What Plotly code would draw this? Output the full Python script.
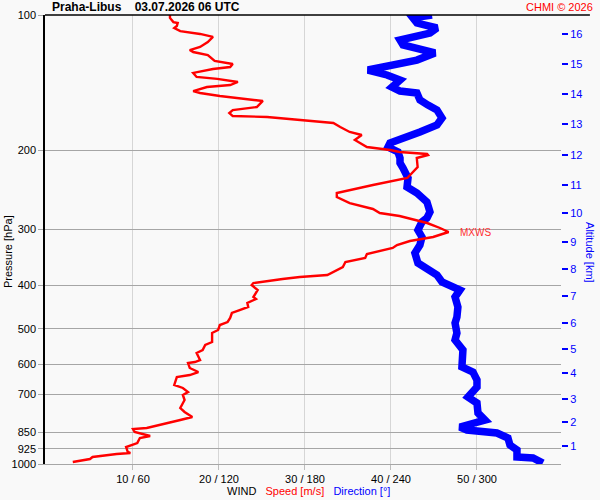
import math
import plotly.graph_objects as go

# wind speed profile [m/s] vs pressure [hPa]
speed_p = [100, 101.5, 103.7, 104.2, 105.8, 106.9, 108.6, 110.2, 111.9, 114.9,
           117.8, 119.7, 120.9, 122.8, 126.6, 128.6, 130.6, 131.9, 134.6, 137.4,
           138.8, 141.0, 143.2, 144.7, 147.7, 149.2, 151.5, 153.8, 155.4, 160.3,
           162.8, 165.3, 167.9, 168.7, 171.3, 174.0, 177.6, 182.2, 185.0, 189.8,
           196.8, 199.8, 201.9, 204.0, 205.0, 208.2, 218.0, 230.7, 239.1, 249.1,
           254.3, 262.3, 270.4, 276.1, 280.3, 286.1, 290.6, 298.1, 304.3, 312.2,
           318.7, 325.3, 330.3, 340.7, 347.7, 354.9, 364.1, 379.4, 383.3, 387.3,
           395.3, 399.4, 409.7, 424.7, 429.0, 437.9, 447.0, 454.0, 461.0, 473.0,
           482.8, 490.3, 503.0, 510.8, 535.0, 543.2, 557.3, 566.0, 586.7, 592.7,
           595.8, 611.2, 623.9, 633.6, 640.1, 666.9, 677.2, 691.3, 702.0, 720.2,
           750.4, 765.9, 785.8, 798.0, 818.7, 831.4, 835.7, 848.7, 866.2, 875.3,
           898.0, 907.3, 916.6, 940.4, 945.2, 950.1, 964.8, 974.7, 989.9]
speed = [14.3, 14.3, 14.7, 15.2, 15.1, 14.8, 15.5, 17.8, 19.3, 18.7,
         17.8, 16.6, 17.0, 18.7, 19.5, 21.6, 21.3, 19.3, 17.0, 17.4,
         19.8, 22.2, 21.3, 18.6, 17.0, 17.8, 20.1, 23.3, 25.1, 24.4,
         21.6, 21.2, 21.6, 25.6, 29.4, 33.3, 34.1, 35.2, 36.6, 35.8,
         37.2, 39.9, 41.0, 44.2, 44.3, 43.0, 43.1, 41.9, 37.9, 33.7,
         33.7, 35.2, 37.9, 38.7, 41.0, 43.0, 44.2, 45.7, 46.7, 44.9,
         42.2, 40.7, 40.2, 37.2, 37.0, 34.7, 34.4, 32.6, 29.4, 27.4,
         24.0, 23.8, 24.5, 24.0, 24.3, 23.3, 23.4, 22.4, 21.5, 21.3,
         21.0, 20.1, 19.9, 19.2, 19.2, 18.4, 18.1, 17.4, 17.8, 17.2,
         16.4, 16.6, 17.6, 16.6, 15.1, 14.8, 15.8, 16.4, 15.8, 16.0,
         15.5, 16.0, 16.9, 15.5, 13.1, 11.6, 10.0, 10.2, 12.0, 10.8,
         10.5, 9.9, 9.2, 9.4, 9.7, 8.1, 5.3, 5.0, 3.0]

# wind direction profile [deg] vs pressure [hPa]
dir_p = [100, 101.5, 104.2, 106.9, 109.7, 113.7, 116.6, 121.5, 126.0, 132.6,
         136.0, 139.6, 144.7, 147.7, 149.2, 154.6, 158.7, 162.8, 169.6, 175.8,
         182.2, 192.8, 196.8, 201.9, 208.2, 213.6, 219.2, 230.7, 241.6, 249.1,
         260.9, 274.6, 283.2, 289.1, 301.2, 312.2, 325.3, 338.9, 356.7, 369.8,
         379.4, 393.3, 403.5, 409.7, 424.7, 447.0, 470.6, 485.3, 510.8, 529.5,
         557.3, 586.7, 608.1, 623.9, 650.0, 673.8, 709.2, 731.4, 769.9, 798.0,
         810.4, 827.2, 840.0, 853.1, 875.3, 907.3, 930.8, 964.8, 969.8, 995.0]
direction = [268.6, 255.3, 258.1, 272.1, 267.2, 246.3, 248.4, 270.7, 258.1, 223.9,
             237.2, 246.3, 240.7, 246.3, 258.1, 260.2, 265.8, 272.1, 275.6, 272.1,
             260.2, 239.3, 237.9, 244.9, 246.3, 246.3, 248.4, 251.9, 251.2, 258.1,
             265.1, 267.2, 265.1, 261.6, 258.8, 261.6, 260.2, 256.7, 258.8, 267.2,
             272.1, 275.6, 282.6, 288.1, 284.7, 286.7, 286.0, 284.7, 286.0, 284.7,
             290.2, 289.5, 289.5, 297.2, 300.0, 300.0, 293.7, 300.0, 300.7, 305.6,
             297.2, 288.1, 293.0, 313.9, 321.6, 323.0, 327.9, 327.9, 339.1, 346.0]

p_ticks = [100, 200, 300, 400, 500, 600, 700, 850, 925, 1000]
x_ticks = [10, 20, 30, 40, 50]
x_labels = ["10 / 60", "20 / 120", "30 / 180", "40 / 240", "50 / 300"]
alt_km = list(range(1, 17))
alt_p = [911.9, 806.2, 716.5, 627.1, 554.5, 485.3, 422.5, 367.9,
         320.3, 276.1, 239.1, 205.0, 174.9, 150.0, 128.6, 110.2]

mxws_p = 304.3
mxws_speed = 46.7

FONT = "Liberation Sans"

fig = go.Figure()
# direction shares the x axis: 6 degrees per m/s
fig.add_trace(go.Scatter(x=[d / 6 for d in direction], y=dir_p, mode="lines",
                         line=dict(color="#0000ff", width=7.5), hoverinfo="skip"))
fig.add_trace(go.Scatter(x=speed, y=speed_p, mode="lines",
                         line=dict(color="#ff0000", width=2.4), hoverinfo="skip"))
fig.add_trace(go.Scatter(x=[None], y=[None], yaxis="y2", showlegend=False))

fig.update_layout(
    width=600, height=500,
    margin=dict(l=45, r=39, t=15, b=36, autoexpand=False),
    paper_bgcolor="#f9f9f9", plot_bgcolor="#f9f9f9",
    showlegend=False,
    font=dict(family=FONT, size=11, color="black"),
    xaxis=dict(range=[-0.23, 59.77], tickvals=x_ticks, ticktext=x_labels,
               showgrid=True, gridcolor="#d6d6d6", gridwidth=1,
               ticks="outside", ticklen=5, tickcolor="#bdbdbd",
               showline=True, linecolor="#a6a6a6", linewidth=1,
               zeroline=False, tickfont=dict(size=11), automargin=False),
    yaxis=dict(type="log", range=[3, 2], tickvals=p_ticks,
               ticktext=[str(p) for p in p_ticks],
               showgrid=True, gridcolor="#a6a6a6", gridwidth=1,
               ticks="outside", ticklen=5, tickcolor="#a6a6a6",
               showline=True, linecolor="black", linewidth=1.5,
               zeroline=False, tickfont=dict(size=11), automargin=False),
    yaxis2=dict(type="log", range=[3, 2], overlaying="y", side="right",
                tickvals=alt_p, ticktext=[str(a) for a in alt_km],
                showgrid=False, showline=False, zeroline=False,
                ticks="outside", ticklen=6, tickcolor="#0000ff", tickwidth=1.5,
                tickfont=dict(size=11, color="#0000ff"), automargin=False),
)

# top border runs past the plot area
fig.add_shape(type="line", xref="paper", yref="paper", x0=0, x1=1.056, y0=1, y1=1,
              line=dict(color="black", width=1.5))
# MXWS markers on both sides
fig.add_shape(type="line", xref="paper", yref="y", x0=-0.005, x1=0.021,
              y0=math.log10(mxws_p), y1=math.log10(mxws_p),
              line=dict(color="#ff0000", width=1.2))
fig.add_shape(type="line", xref="paper", yref="y", x0=0.988, x1=1.012,
              y0=math.log10(mxws_p), y1=math.log10(mxws_p),
              line=dict(color="#ff0000", width=1.2))
fig.add_annotation(x=mxws_speed, y=math.log10(mxws_p), xref="x", yref="y",
                   text="MXWS", showarrow=False, xanchor="left", xshift=9,
                   font=dict(color="#ff3030", size=10))

fig.add_annotation(x=0.0097, y=1.0178, xref="paper", yref="paper",
                   text="<b>Praha-Libus    03.07.2026 06 UTC</b>", showarrow=False,
                   xanchor="left", yanchor="middle", font=dict(size=12))
fig.add_annotation(x=1.066, y=1.0178, xref="paper", yref="paper",
                   text="CHMI © 2026", showarrow=False,
                   xanchor="right", yanchor="middle",
                   font=dict(size=11, color="#ff0000"))
fig.add_annotation(x=-0.0717, y=0.472, xref="paper", yref="paper",
                   text="Pressure [hPa]", showarrow=False, textangle=-90,
                   xanchor="center", yanchor="middle", font=dict(size=11))
fig.add_annotation(x=1.056, y=0.47, xref="paper", yref="paper",
                   text="Altitude [km]", showarrow=False, textangle=90,
                   xanchor="center", yanchor="middle",
                   font=dict(size=11, color="#0000ff"))
fig.add_annotation(x=0.51, y=-0.06, xref="paper", yref="paper",
                   text="WIND   <span style='color:#ff0000'>Speed [m/s]</span>"
                        "   <span style='color:#0000ff'>Direction [°]</span>",
                   showarrow=False, xanchor="center", yanchor="middle",
                   font=dict(size=11))

# drop the browser's default body margin so the figure sits at the page corner
fig.write_html("out.html", config={"displayModeBar": False},
               post_script="document.body.style.margin='0px';")
